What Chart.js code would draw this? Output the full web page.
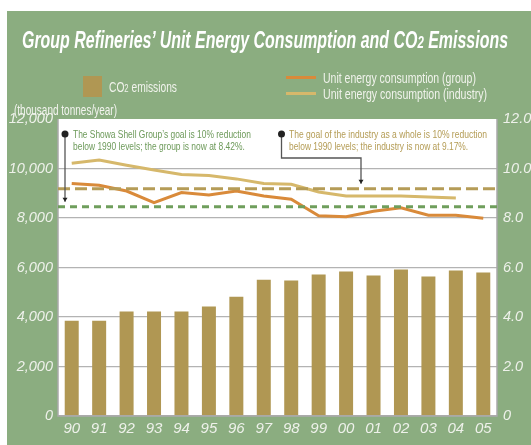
<!DOCTYPE html>
<html>
<head>
<meta charset="utf-8">
<script src="https://cdn.jsdelivr.net/npm/chart.js@4"></script>
<style>
  body { margin: 0; background: #fff; width: 531px; height: 445px; overflow: hidden; position: relative; }
  #wrap { position: absolute; left: 7px; top: 11px; width: 524px; height: 434px; background: #8bad80; }
  .txt { position: absolute; font-family: 'Liberation Sans', Arial, sans-serif; white-space: nowrap; transform-origin: 0 0; line-height: 1; }
  #titulo { color: #fff; font-size: 23px; font-weight: bold; font-style: italic; }
  .leyenda { color: #f1f3ec; font-size: 14px; }
  .nota { font-size: 11px; }
  .sw { position: absolute; }
</style>
</head>
<body>
<div id="wrap"><canvas id="grafico"></canvas></div>

<div class="txt" id="titulo" data-w="486" style="left:22px;top:29px">Group Refineries’ Unit Energy Consumption and CO<span style="font-size:0.72em">2</span> Emissions</div>

<div class="sw" style="left:83px;top:76px;width:19px;height:21px;background:#b09753"></div>
<div class="txt leyenda" data-w="68" style="left:109px;top:80px">CO<span style="font-size:0.75em">2</span> emissions</div>
<div class="sw" style="left:286px;top:76px;width:30px;height:3px;background:#d98a3a"></div>
<div class="sw" style="left:286px;top:92px;width:30px;height:3px;background:#d6b86b"></div>
<div class="txt leyenda" data-w="153" style="left:323px;top:71px">Unit energy consumption (group)</div>
<div class="txt leyenda" data-w="164" style="left:323px;top:87px">Unit energy consumption (industry)</div>
<div class="txt leyenda" data-w="103" style="left:14px;top:103px;color:#f3f4ef">(thousand tonnes/year)</div>

<div class="txt nota" data-w="178" style="left:73px;top:129px;color:#6d9a5a">The Showa Shell Group’s goal is 10% reduction</div>
<div class="txt nota" data-w="172" style="left:73px;top:141px;color:#6d9a5a">below 1990 levels; the group is now at 8.42%.</div>
<div class="txt nota" data-w="198" style="left:289px;top:129px;color:#b49c55">The goal of the industry as a whole is 10% reduction</div>
<div class="txt nota" data-w="179" style="left:289px;top:141px;color:#b49c55">below 1990 levels; the industry is now at 9.17%.</div>

<script>
const anios = ['90','91','92','93','94','95','96','97','98','99','00','01','02','03','04','05'];
const emisionesCO2 = [3850, 3850, 4220, 4220, 4220, 4420, 4820, 5510, 5470, 5720, 5840, 5680, 5920, 5640, 5880, 5800];
const consumoGrupo = [9.39, 9.32, 9.09, 8.62, 9.03, 8.93, 9.09, 8.89, 8.76, 8.09, 8.05, 8.27, 8.41, 8.11, 8.11, 7.99];
const consumoIndustria = [10.21, 10.34, 10.13, 9.94, 9.76, 9.72, 9.58, 9.39, 9.36, 9.05, 8.89, 8.89, 8.89, 8.85, 8.81, null];
const metaIndustria = 9.18;
const metaGrupo = 8.45;
const ticksIzq = [0, 2000, 4000, 6000, 8000, 10000, 12000];
const ticksDer = [0, 2, 4, 6, 8, 10, 12];

const FUENTE = "'Liberation Sans', Arial, sans-serif";
const COLOR_TEXTO = '#eef1ea';

// encoger los textos html al ancho del original (letra condensada)
document.querySelectorAll('.txt[data-w]').forEach(el => {
  const w = parseFloat(el.dataset.w);
  el.style.transform = 'scaleX(' + (w / el.scrollWidth) + ')';
});

const fondoBlanco = {
  id: 'fondoBlanco',
  beforeDraw(chart) {
    const a = chart.chartArea;
    const ctx = chart.ctx;
    ctx.save();
    ctx.fillStyle = '#ffffff';
    ctx.fillRect(a.left, a.top, a.right - a.left, a.bottom - a.top);
    ctx.restore();
  },
  afterDatasetsDraw(chart) {
    const a = chart.chartArea;
    const ctx = chart.ctx;
    const y1 = chart.scales.y1;
    ctx.save();
    // bordes del area
    ctx.strokeStyle = '#a9a9a9';
    ctx.lineWidth = 1.5;
    ctx.beginPath();
    ctx.moveTo(a.left, a.top); ctx.lineTo(a.left, a.bottom); ctx.lineTo(a.right, a.bottom); ctx.lineTo(a.right, a.top);
    ctx.stroke();
    // metas
    ctx.lineWidth = 3;
    ctx.strokeStyle = '#b59c57';
    ctx.setLineDash([12, 5]);
    let yy = y1.getPixelForValue(metaIndustria);
    ctx.beginPath(); ctx.moveTo(a.left, yy); ctx.lineTo(a.right, yy); ctx.stroke();
    ctx.strokeStyle = '#6f9e5c';
    ctx.setLineDash([7, 5]);
    yy = y1.getPixelForValue(metaGrupo);
    ctx.beginPath(); ctx.moveTo(a.left, yy); ctx.lineTo(a.right, yy); ctx.stroke();
    ctx.setLineDash([]);
    // flechas de las notas
    ctx.strokeStyle = '#555';
    ctx.fillStyle = '#222';
    ctx.lineWidth = 1.3;
    const p1x = a.left + 7, p1y = a.top + 15;
    const t1 = y1.getPixelForValue(metaGrupo) - 5;
    ctx.beginPath(); ctx.moveTo(p1x, p1y); ctx.lineTo(p1x, t1); ctx.stroke();
    ctx.beginPath(); ctx.moveTo(p1x - 2.5, t1 - 4); ctx.lineTo(p1x + 2.5, t1 - 4); ctx.lineTo(p1x, t1); ctx.fill();
    ctx.beginPath(); ctx.arc(p1x, p1y, 3.5, 0, Math.PI * 2); ctx.fill();

    const p2x = a.left + 223.5, p2y = a.top + 15;
    const codoY = a.top + 39, codoX = a.left + 303;
    const t2 = y1.getPixelForValue(metaIndustria) - 5;
    ctx.beginPath(); ctx.moveTo(p2x, p2y); ctx.lineTo(p2x, codoY); ctx.lineTo(codoX, codoY); ctx.lineTo(codoX, t2); ctx.stroke();
    ctx.beginPath(); ctx.moveTo(codoX - 2.5, t2 - 4); ctx.lineTo(codoX + 2.5, t2 - 4); ctx.lineTo(codoX, t2); ctx.fill();
    ctx.beginPath(); ctx.arc(p2x, p2y, 3.5, 0, Math.PI * 2); ctx.fill();
    ctx.restore();
  }
};

const ctx = document.getElementById('grafico').getContext('2d');
const grafico = new Chart(ctx, {
  type: 'bar',
  data: {
    labels: anios,
    datasets: [
      {
        type: 'line',
        label: 'Unit energy consumption (group)',
        data: consumoGrupo,
        yAxisID: 'y1',
        borderColor: '#d98a3a',
        borderWidth: 3,
        pointRadius: 0,
        tension: 0,
        order: 1
      },
      {
        type: 'line',
        label: 'Unit energy consumption (industry)',
        data: consumoIndustria,
        yAxisID: 'y1',
        borderColor: '#d6b86b',
        borderWidth: 3,
        pointRadius: 0,
        tension: 0,
        order: 1
      },
      {
        label: 'CO2 emissions',
        data: emisionesCO2,
        yAxisID: 'y',
        backgroundColor: '#b09753',
        barPercentage: 0.51,
        categoryPercentage: 1,
        order: 2
      }
    ]
  },
  options: {
    responsive: true,
    maintainAspectRatio: false,
    animation: false,
    layout: { padding: { top: 108, left: 0, right: 0, bottom: 0 } },
    plugins: {
      legend: { display: false },
      tooltip: { enabled: false }
    },
    scales: {
      x: {
        grid: { display: false, drawTicks: false },
        border: { display: false },
        ticks: { color: COLOR_TEXTO, padding: 4, font: { family: FUENTE, size: 15, style: 'italic' } },
        afterFit(scale) { scale.height = 29; }
      },
      y: {
        position: 'left',
        min: 0,
        max: 12000,
        afterBuildTicks(scale) { scale.ticks = ticksIzq.map(v => ({ value: v })); },
        grid: {
          drawTicks: false,
          lineWidth: 1.3,
          color: c => (c.tick && c.tick.value === 12000) ? 'rgba(0,0,0,0)' : '#b3b3b3'
        },
        border: { display: false },
        ticks: {
          color: COLOR_TEXTO,
          padding: 5,
          font: { family: FUENTE, size: 14.5, style: 'italic' },
          callback: v => v.toLocaleString('en-US')
        },
        afterFit(scale) { scale.width = 51; }
      },
      y1: {
        position: 'right',
        min: 0,
        max: 12,
        afterBuildTicks(scale) { scale.ticks = ticksDer.map(v => ({ value: v })); },
        grid: { drawOnChartArea: false, drawTicks: false },
        border: { display: false },
        ticks: {
          color: COLOR_TEXTO,
          padding: 6,
          font: { family: FUENTE, size: 14.5, style: 'italic' },
          callback: v => v === 0 ? '0' : v.toFixed(1)
        },
        afterFit(scale) { scale.width = 34; }
      }
    }
  },
  plugins: [fondoBlanco]
});
</script>
</body>
</html>
